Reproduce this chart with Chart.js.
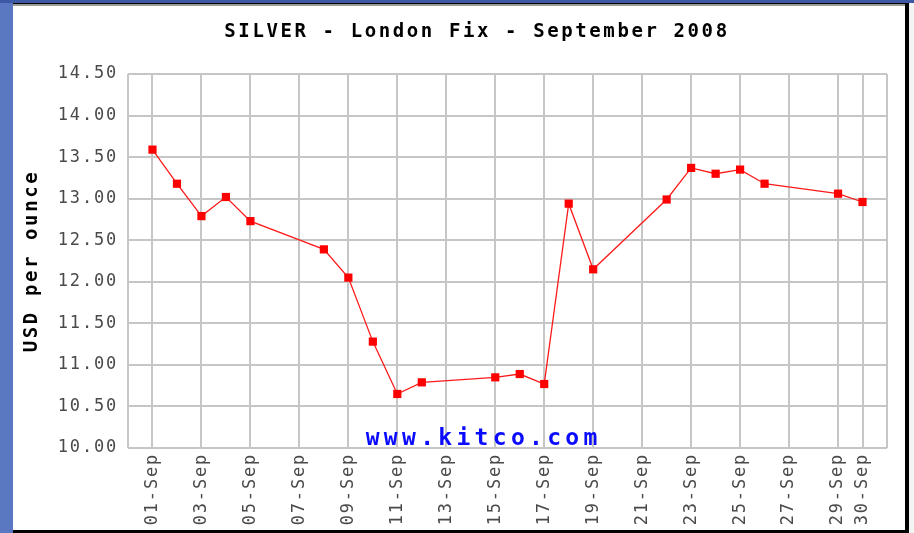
<!DOCTYPE html>
<html>
<head>
<meta charset="utf-8">
<script src="https://cdn.jsdelivr.net/npm/chart.js@4/dist/chart.umd.min.js"></script>
<style>
  html, body { margin: 0; padding: 0; }
  body { width: 914px; height: 533px; background: #5a77c2; position: relative; overflow: hidden; }
  #topbar { position: absolute; left: 0; top: 0; width: 914px; height: 3px; background: #3d58a4; }
  #rightstrip { position: absolute; left: 909px; top: 3px; width: 5px; height: 530px; background: #f4f4f4; }
  #panel { position: absolute; left: 13px; top: 3px; width: 892px; height: 526px; background: #fff;
           border-top: 1px solid #000; border-right: 4px solid #000; border-bottom: 3px solid #000; }
  #shade { position: absolute; left: 0; top: 0; width: 892px; height: 2px; background: #9a9a9a; }
  #c { position: absolute; left: 0; top: 2px; }
</style>
</head>
<body>
<div id="topbar"></div>
<div id="rightstrip"></div>
<div id="panel">
  <div id="shade"></div>
  <canvas id="c" width="892" height="524"></canvas>
</div>
<script>
// ---- data ----
const chartTitle = 'SILVER - London Fix - September 2008';
const yAxisTitle = 'USD per ounce';
const watermarkText = 'www.kitco.com';

const days = [1, 2, 3, 4, 5, 8, 9, 10, 11, 12, 15, 16, 17, 18, 19, 22, 23, 24, 25, 26, 29, 30];
const prices = [13.59, 13.18, 12.79, 13.02, 12.73, 12.39, 12.05, 11.28, 10.65, 10.79, 10.85,
                10.89, 10.77, 12.94, 12.15, 12.99, 13.37, 13.30, 13.35, 13.18, 13.06, 12.96];

const tickDays = [1, 3, 5, 7, 9, 11, 13, 15, 17, 19, 21, 23, 25, 27, 29, 30];
const tickLabels = ['01-Sep', '03-Sep', '05-Sep', '07-Sep', '09-Sep', '11-Sep', '13-Sep', '15-Sep',
                    '17-Sep', '19-Sep', '21-Sep', '23-Sep', '25-Sep', '27-Sep', '29-Sep', '30-Sep'];
const xRange = [0, 31];
const yRange = [10, 14.5];
const yStep = 0.5;

// ---- styling helpers ----
const MONO = "'DejaVu Sans Mono', 'Liberation Mono', monospace";
const GRID = '#c6c6c6';

function wrapSpacing(obj, method, spacing, dx) {
  if (!obj || obj['_w_' + method]) return;
  const orig = obj[method];
  obj[method] = function (...args) {
    const ctx = this.ctx;
    ctx.save();
    ctx.letterSpacing = spacing;
    if (dx) ctx.translate(dx, 0);
    const r = orig.apply(this, args);
    ctx.restore();
    return r;
  };
  obj['_w_' + method] = true;
}

const stylePlugin = {
  id: 'stylePlugin',
  beforeLayout(chart) { chart.ctx.letterSpacing = '1.8px'; },
  afterLayout(chart) {
    wrapSpacing(chart.titleBlock, 'draw', '2.6px', 27);
    wrapSpacing(chart.scales.y, 'drawTitle', '2.6px', 0);
  },
  beforeDraw(chart) { chart.ctx.letterSpacing = '1.8px'; },
  beforeDatasetsDraw(chart) {
    const {ctx, chartArea} = chart;
    ctx.save();
    ctx.letterSpacing = '4.3px';
    ctx.font = "bold 23px " + MONO;
    ctx.fillStyle = '#0a0aff';
    ctx.textAlign = 'center';
    ctx.textBaseline = 'alphabetic';
    const cx = chartArea.left + chartArea.width * 0.4657 + 2.2;
    ctx.fillText(watermarkText, cx, chartArea.bottom - 3);
    ctx.restore();
  }
};

const points = days.map((d, i) => ({x: d, y: prices[i]}));

new Chart(document.getElementById('c'), {
  type: 'line',
  data: {
    datasets: [{
      label: 'Silver',
      data: points,
      borderColor: '#ff1a1a',
      borderWidth: 1.3,
      backgroundColor: '#ff0000',
      pointStyle: 'rect',
      pointRadius: 5.8,
      pointBorderWidth: 0,
      pointBackgroundColor: '#ff0000',
      tension: 0,
      fill: false
    }]
  },
  options: {
    responsive: false,
    animation: false,
    devicePixelRatio: 1,
    layout: { padding: { left: 0, right: 18, top: 0, bottom: 0 } },
    plugins: {
      legend: { display: false },
      tooltip: { enabled: false },
      title: {
        display: true,
        text: chartTitle,
        color: '#000',
        font: { family: MONO, size: 19, weight: 'bold', lineHeight: 1.2 },
        padding: { top: 14.6, bottom: 30.6 }
      }
    },
    scales: {
      x: {
        type: 'linear',
        min: xRange[0],
        max: xRange[1],
        afterBuildTicks(scale) {
          scale.ticks = [xRange[0], ...tickDays, xRange[1]].map(v => ({value: v}));
        },
        afterFit(scale) { scale.height = 82; scale.paddingLeft = 0; scale.paddingRight = 0; },
        grid: { color: GRID, lineWidth: 2, drawTicks: false },
        border: { display: false },
        ticks: {
          autoSkip: false,
          minRotation: 90,
          maxRotation: 90,
          padding: 5,
          color: '#4a4a4a',
          font: { family: MONO, size: 17 },
          callback(v) {
            const i = tickDays.indexOf(v);
            return i >= 0 ? tickLabels[i] : '';
          }
        }
      },
      y: {
        type: 'linear',
        min: yRange[0],
        max: yRange[1],
        afterFit(scale) { scale.width = 115; },
        grid: { color: GRID, lineWidth: 2, drawTicks: false },
        border: { display: false },
        title: {
          display: true,
          text: yAxisTitle,
          color: '#000',
          font: { family: MONO, size: 19, weight: 'bold', lineHeight: 1.2 },
          padding: { top: 8, bottom: 0 }
        },
        ticks: {
          stepSize: yStep,
          padding: 10,
          color: '#4a4a4a',
          font: { family: MONO, size: 17 },
          callback(v) { return Number(v).toFixed(2); }
        }
      }
    }
  },
  plugins: [stylePlugin]
});
</script>
</body>
</html>
